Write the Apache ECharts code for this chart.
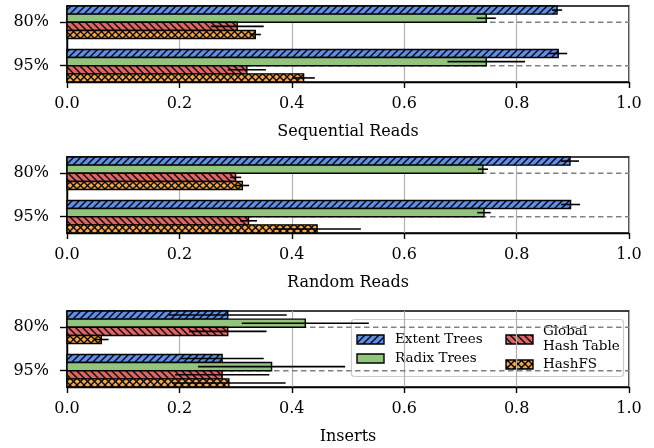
<!DOCTYPE html>
<html><head><meta charset="utf-8">
<script src="https://cdn.jsdelivr.net/npm/echarts@6/dist/echarts.min.js"></script>
<style>html,body{margin:0;padding:0;background:#fff}#c{width:654px;height:448px}</style>
</head><body><div id="c"></div>
<script>
// ---------- data ----------
const categories = ['80%', '95%'];
const seriesNames = ['Extent Trees', 'Radix Trees', 'Global\nHash Table', 'HashFS'];
const panelTitles = ['Sequential Reads', 'Random Reads', 'Inserts'];

const seqExtent = [0.872, 0.874];   const seqExtentErr = [0.009, 0.016];
const seqRadix  = [0.746, 0.746];   const seqRadixErr  = [0.017, 0.069];
const seqGlobal = [0.303, 0.320];   const seqGlobalErr = [0.047, 0.034];
const seqHashFS = [0.335, 0.421];   const seqHashFSErr = [0.010, 0.020];

const rndExtent = [0.895, 0.896];   const rndExtentErr = [0.016, 0.017];
const rndRadix  = [0.740, 0.742];   const rndRadixErr  = [0.009, 0.012];
const rndGlobal = [0.300, 0.323];   const rndGlobalErr = [0.010, 0.015];
const rndHashFS = [0.312, 0.445];   const rndHashFSErr = [0.012, 0.078];

const insExtent = [0.286, 0.276];   const insExtentErr = [0.105, 0.074];
const insRadix  = [0.424, 0.364];   const insRadixErr  = [0.113, 0.131];
const insGlobal = [0.286, 0.276];   const insGlobalErr = [0.069, 0.084];
const insHashFS = [0.061, 0.288];   const insHashFSErr = [0.013, 0.101];

const panels = [
  {values: [seqExtent, seqRadix, seqGlobal, seqHashFS], errs: [seqExtentErr, seqRadixErr, seqGlobalErr, seqHashFSErr]},
  {values: [rndExtent, rndRadix, rndGlobal, rndHashFS], errs: [rndExtentErr, rndRadixErr, rndGlobalErr, rndHashFSErr]},
  {values: [insExtent, insRadix, insGlobal, insHashFS], errs: [insExtentErr, insRadixErr, insGlobalErr, insHashFSErr]}
];

// ---------- styles ----------
const FONT = 'DejaVu Serif';
const colors = ['#5f8fe6', '#93c47d', '#e06666', '#f5a447'];
const hatches = ['/', '', '\\', 'x'];

function makePattern(color, hatch) {
  if (!hatch) return color;
  const s = 7;
  const cv = document.createElement('canvas');
  cv.width = s; cv.height = s;
  const g = cv.getContext('2d');
  g.fillStyle = color; g.fillRect(0, 0, s, s);
  g.strokeStyle = '#000'; g.lineWidth = 1.35;
  const up = () => { g.beginPath(); g.moveTo(-1, s + 1); g.lineTo(s + 1, -1);
    g.moveTo(-1, 1); g.lineTo(1, -1); g.moveTo(s - 1, s + 1); g.lineTo(s + 1, s - 1); g.stroke(); };
  const down = () => { g.beginPath(); g.moveTo(-1, -1); g.lineTo(s + 1, s + 1);
    g.moveTo(s - 1, -1); g.lineTo(s + 1, 1); g.moveTo(-1, s - 1); g.lineTo(1, s + 1); g.stroke(); };
  if (hatch === '/') up();
  else if (hatch === '\\') down();
  else { up(); down(); }
  return {image: cv, repeat: 'repeat'};
}
const fills = colors.map((c, i) => makePattern(c, hatches[i]));

const GROUP = 0.75, BH = GROUP / 4;
const tops = [6, 157, 311];
const PH = 76;

function barRenderer(k) {
  return function (params, api) {
    const v = api.value(0), c = api.value(1), e = api.value(2);
    const y0 = c - GROUP / 2 + k * BH, y1 = y0 + BH;
    const a = api.coord([0, y0]), b = api.coord([v, y1]);
    const x = Math.min(a[0], b[0]), y = Math.min(a[1], b[1]);
    const w = Math.abs(b[0] - a[0]), h = Math.abs(b[1] - a[1]);
    const yc = y + h / 2;
    const lo = api.coord([v - e, c])[0], hi = api.coord([v + e, c])[0];
    return {type: 'group', children: [
      {type: 'rect', shape: {x: x, y: y, width: w, height: h}, style: {fill: fills[k], stroke: '#000', lineWidth: 1.4}},
      {type: 'line', shape: {x1: lo, y1: yc, x2: hi, y2: yc}, style: {stroke: '#000', lineWidth: 1.6}}
    ]};
  };
}
function guideRenderer(params, api) {
  const c = api.value(0);
  const a = api.coord([0, c]), b = api.coord([1, c]);
  return {type: 'line', shape: {x1: a[0], y1: a[1], x2: b[0], y2: b[1]},
    style: {stroke: '#808080', lineWidth: 1.6, lineDash: [5.5, 3.5]}};
}

const grids = [], xAxes = [], yAxes = [], series = [];
panels.forEach((p, i) => {
  grids.push({left: 67, width: 562, top: tops[i], height: PH, show: true, borderColor: '#000', borderWidth: 1.4, backgroundColor: 'transparent'});
  xAxes.push({type: 'value', gridIndex: i, min: 0, max: 1, interval: 0.2, position: 'bottom',
    name: panelTitles[i], nameLocation: 'middle', nameGap: 42,
    nameTextStyle: {fontFamily: FONT, fontSize: 16, color: '#000'},
    axisLine: {show: true, onZero: false, lineStyle: {color: '#000', width: 1.4}},
    axisTick: {show: true, inside: false, length: 6, lineStyle: {color: '#000', width: 1.4}},
    axisLabel: {margin: 14, fontFamily: FONT, fontSize: 16, color: '#000', formatter: v => v.toFixed(1)},
    splitLine: {show: true, lineStyle: {color: '#b0b0b0', width: 1.2}}});
  yAxes.push({type: 'value', gridIndex: i, min: -GROUP / 2, max: 1 + GROUP / 2, inverse: true, position: 'left',
    axisLine: {show: true, onZero: false, lineStyle: {color: '#000', width: 1.4}},
    axisTick: {show: true, length: 7, customValues: [0, 1], lineStyle: {color: '#000', width: 1.4}},
    axisLabel: {margin: 18, fontFamily: FONT, fontSize: 16, color: '#000', customValues: [0, 1],
      formatter: v => categories[Math.round(v)]},
    splitLine: {show: false}});
  series.push({type: 'custom', xAxisIndex: i, yAxisIndex: i, z: 1, silent: true,
    renderItem: guideRenderer, data: categories.map((c, j) => [j]), encode: {x: -1, y: 0}});
  p.values.forEach((vals, k) => {
    series.push({type: 'custom', name: seriesNames[k], xAxisIndex: i, yAxisIndex: i, z: 2,
      renderItem: barRenderer(k),
      data: vals.map((v, j) => [v, j, p.errs[k][j]]), encode: {x: 0, y: 1}});
  });
});

// legend (drawn with graphic elements)
const legendItems = [
  {k: 0, px: 357, py: 335, tx: 395, ty: 339.5},
  {k: 1, px: 357, py: 354, tx: 395, ty: 358.5},
  {k: 2, px: 506, py: 335, tx: 543, ty: 338.5},
  {k: 3, px: 506, py: 360, tx: 543, ty: 364.5}
];
const legendChildren = [{type: 'rect', shape: {x: 351.5, y: 319.5, width: 272, height: 57, r: 3},
  style: {fill: 'rgba(255,255,255,0.8)', stroke: '#cccccc', lineWidth: 1.2}}];
legendItems.forEach(it => {
  legendChildren.push({type: 'rect', shape: {x: it.px, y: it.py, width: 27, height: 9},
    style: {fill: fills[it.k], stroke: '#000', lineWidth: 1.4}});
  legendChildren.push({type: 'text', x: it.tx, y: it.ty,
    style: {text: seriesNames[it.k], font: '13.5px "DejaVu Serif"', fill: '#000', textVerticalAlign: 'middle', lineHeight: 15}});
});

const chart = echarts.init(document.getElementById('c'), null, {renderer: 'canvas'});
chart.setOption({
  animation: false,
  backgroundColor: '#fff',
  grid: grids, xAxis: xAxes, yAxis: yAxes, series: series,
  graphic: [{type: 'group', z: 100, children: legendChildren}]
});
</script></body></html>
